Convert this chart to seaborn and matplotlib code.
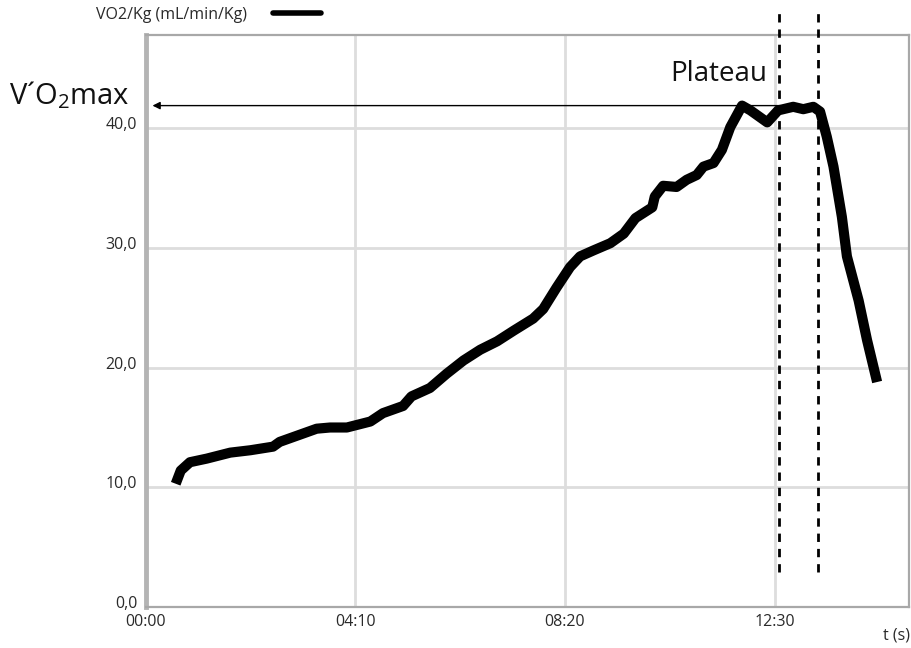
import numpy as np
import pandas as pd
import matplotlib.pyplot as plt
import matplotlib.transforms as mtransforms
import seaborn as sns
from matplotlib.lines import Line2D

# VO2/Kg curve (time in seconds, mL/min/Kg)
time_s = [36, 42, 53, 73, 101, 125, 152, 160, 184, 204, 220, 240, 268, 283,
          307, 317, 339, 359, 379, 399, 419, 439, 462, 474, 490, 506, 518,
          534, 554, 570, 584, 604, 607, 617, 633, 645, 657, 665, 677, 687,
          697, 711, 721, 741, 754, 772, 784, 796, 804, 812, 820, 830, 836,
          850, 860, 872]
vo2_kg = [10.3, 11.4, 12.1, 12.4, 12.9, 13.1, 13.4, 13.8, 14.4, 14.9, 15.0,
          15.0, 15.5, 16.2, 16.8, 17.6, 18.3, 19.5, 20.6, 21.5, 22.2, 23.1,
          24.1, 24.9, 26.7, 28.4, 29.3, 29.8, 30.4, 31.2, 32.5, 33.4, 34.3,
          35.2, 35.1, 35.7, 36.1, 36.8, 37.1, 38.2, 40.1, 41.9, 41.5, 40.5,
          41.5, 41.8, 41.6, 41.8, 41.4, 39.3, 36.8, 32.6, 29.3, 25.6, 22.3,
          18.8]

x_ticks = [0, 250, 500, 750]
x_labels = ["00:00", "04:10", "08:20", "12:30"]
y_ticks = [0, 10, 20, 30, 40]
y_labels = ["0,0", "10,0", "20,0", "30,0", "40,0"]

vo2max = 41.9
plateau_bounds = [755, 802]

df = pd.DataFrame({"t": time_s, "vo2": vo2_kg})

sns.set_theme(style="whitegrid")
plt.rcParams["font.family"] = ["Open Sans", "DejaVu Sans"]

fig = plt.figure(figsize=(9.12, 6.48), dpi=100)
ax = fig.add_axes([145.5 / 912, 1 - 607 / 648, (909 - 145.5) / 912, (607 - 35) / 648])

sns.lineplot(data=df, x="t", y="vo2", ax=ax, color="black", lw=7.3,
             solid_joinstyle="round", solid_capstyle="butt", zorder=3)

ax.set_xlim(0, 910)
ax.set_ylim(0, 47.8)
ax.set_xticks(x_ticks, x_labels)
ax.set_yticks(y_ticks, y_labels)
ax.set_xlabel("")
ax.set_ylabel("")
ax.grid(True, color="#dddddd", lw=2)
ax.tick_params(axis="both", length=0, labelsize=11.5, labelcolor="#2a2a2a")
ax.tick_params(axis="x", pad=5)
ax.tick_params(axis="y", pad=6)
# y labels sit a little above their gridlines
shift = mtransforms.ScaledTranslation(0, 3 / 100, fig.dpi_scale_trans)
for lab in ax.get_yticklabels():
    lab.set_va("center")
    lab.set_transform(lab.get_transform() + shift)
for name, sp in ax.spines.items():
    sp.set_color("#a8a8a8")
    sp.set_linewidth(1.6)
ax.spines["left"].set_linewidth(3.5)
ax.spines["left"].set_color("#b4b4b4")

# VO2max arrow
ax.annotate("", xy=(5, vo2max), xytext=(760, vo2max),
            arrowprops=dict(arrowstyle="-|>", color="black", lw=1,
                            mutation_scale=11), zorder=2)

# plateau limits
for xb in plateau_bounds:
    ax.plot([xb, xb], [2.9, 49.7], color="black", lw=2,
            linestyle=(0, (3, 2.5)), clip_on=False, zorder=4)

ax.text(741, 44.5, "Plateau", ha="right", va="center", fontsize=20,
        color="#111111")
fig.text(9 / 912, 1 - 95 / 648, r"V´O$_\mathregular{2}$max", ha="left",
         va="center", fontsize=21, color="#111111")

fig.text(1 - 2 / 912, 1 - 635 / 648, "t (s)", ha="right", va="center",
         fontsize=11.5, color="#2a2a2a")

handle = Line2D([], [], color="black", lw=4)
fig.legend([handle], ["VO2/Kg (mL/min/Kg)"], loc="center left",
           bbox_to_anchor=(82 / 912, 1 - 15 / 648), frameon=False,
           markerfirst=False, fontsize=11.5, handlelength=3.0,
           handletextpad=1.6, labelcolor="#2a2a2a")

fig.savefig("out.png", dpi=100)
